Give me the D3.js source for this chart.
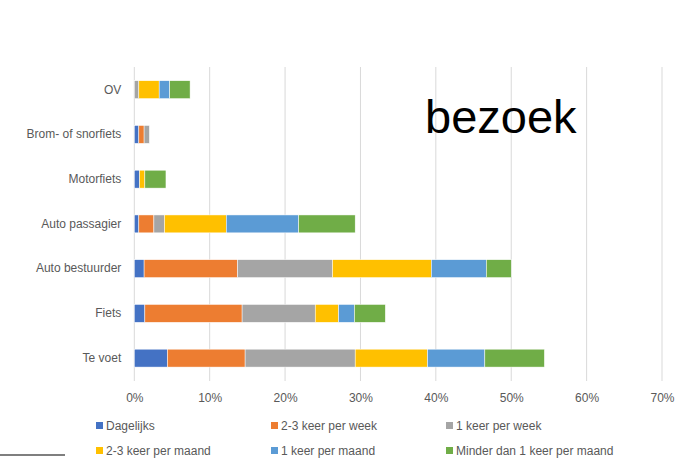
<!DOCTYPE html>
<html>
<head>
<meta charset="utf-8">
<script src="https://cdn.jsdelivr.net/npm/d3@7"></script>
<style>
  body { margin: 0; background: #fff; }
  svg { display: block; font-family: "Liberation Sans", Arial, sans-serif; }
</style>
</head>
<body>
<svg></svg>
<script>
const width = 684;
const height = 461;

// categories top to bottom
const categories = ["OV", "Brom- of snorfiets", "Motorfiets", "Auto passagier", "Auto bestuurder", "Fiets", "Te voet"];
const seriesNames = ["Dagelijks", "2-3 keer per week", "1 keer per week", "2-3 keer per maand", "1 keer per maand", "Minder dan 1 keer per maand"];
const colors = ["#4472C4", "#ED7D31", "#A5A5A5", "#FFC000", "#5B9BD5", "#70AD47"];

// percentages per series, in category order
const dagelijks = [0, 0.6, 0.7, 0.6, 1.3, 1.4, 4.4];
const keer23Week = [0, 0.7, 0, 2.0, 12.4, 12.9, 10.3];
const keer1Week = [0.6, 0.7, 0, 1.4, 12.6, 9.7, 14.6];
const keer23Maand = [2.7, 0, 0.7, 8.2, 13.1, 3.1, 9.6];
const keer1Maand = [1.4, 0, 0, 9.6, 7.3, 2.1, 7.6];
const minder = [2.7, 0, 2.8, 7.5, 3.3, 4.1, 7.9];

const xTicks = [0, 10, 20, 30, 40, 50, 60, 70];

const svg = d3.select("svg").attr("width", width).attr("height", height);

const seriesValues = [dagelijks, keer23Week, keer1Week, keer23Maand, keer1Maand, minder];
const table = categories.map((c, i) => {
  const row = { cat: c };
  seriesNames.forEach((s, j) => (row[s] = seriesValues[j][i]));
  return row;
});

const xScale = d3.scaleLinear().domain([0, 70]).range([134.3, 662]);
const yScale = d3
  .scaleBand()
  .domain(categories)
  .range([67.3, 380.5])
  .paddingInner(0.6)
  .paddingOuter(0.3);

// grid lines
svg
  .append("g")
  .selectAll("line")
  .data(xTicks)
  .enter()
  .append("line")
  .attr("x1", (d) => xScale(d))
  .attr("x2", (d) => xScale(d))
  .attr("y1", 67)
  .attr("y2", 381)
  .attr("stroke", "#d9d9d9")
  .attr("stroke-width", 1);

// title-ish label
svg
  .append("text")
  .attr("x", 425)
  .attr("y", 133)
  .attr("font-size", 47)
  .attr("fill", "#000")
  .text("bezoek");

// stacked bars
const stacked = d3.stack().keys(seriesNames)(table);

svg
  .append("g")
  .selectAll("g")
  .data(stacked)
  .enter()
  .append("g")
  .attr("fill", (d, i) => colors[i])
  .selectAll("rect")
  .data((d) => d)
  .enter()
  .append("rect")
  .attr("x", (d) => xScale(d[0]))
  .attr("y", (d) => yScale(d.data.cat))
  .attr("width", (d) => xScale(d[1]) - xScale(d[0]))
  .attr("height", yScale.bandwidth())
  .attr("stroke", "#fff")
  .attr("stroke-width", 0.5);

// x axis labels
const xAxis = d3
  .axisBottom(xScale)
  .tickValues(xTicks)
  .tickSize(0)
  .tickPadding(8)
  .tickFormat((d) => d + "%");
svg
  .append("g")
  .attr("transform", "translate(0, 385)")
  .call(xAxis)
  .call((g) => g.select(".domain").remove())
  .call((g) =>
    g.selectAll("text").attr("fill", "#595959").attr("font-size", 12).attr("font-family", "Liberation Sans, Arial, sans-serif")
  );

// y axis labels
const yAxis = d3.axisLeft(yScale).tickSize(0).tickPadding(13);
svg
  .append("g")
  .attr("transform", "translate(134.3, 0)")
  .call(yAxis)
  .call((g) => g.select(".domain").remove())
  .call((g) =>
    g.selectAll("text").attr("fill", "#595959").attr("font-size", 12).attr("font-family", "Liberation Sans, Arial, sans-serif")
  );

// legend
const legend = svg
  .append("g")
  .selectAll("g")
  .data(seriesNames)
  .enter()
  .append("g")
  .attr("transform", (d, i) => `translate(${96 + (i % 3) * 175}, ${426 + Math.floor(i / 3) * 25})`);

legend
  .append("rect")
  .attr("x", 0)
  .attr("y", -4)
  .attr("width", 7)
  .attr("height", 7)
  .attr("fill", (d, i) => colors[i]);

legend
  .append("text")
  .attr("x", 10)
  .attr("y", 4)
  .attr("font-size", 12)
  .attr("fill", "#595959")
  .text((d) => d);

// slide decoration line bottom left
svg
  .append("line")
  .attr("x1", 0)
  .attr("x2", 65)
  .attr("y1", 455)
  .attr("y2", 455)
  .attr("stroke", "#7f7f7f")
  .attr("stroke-width", 2);
</script>
</body>
</html>
